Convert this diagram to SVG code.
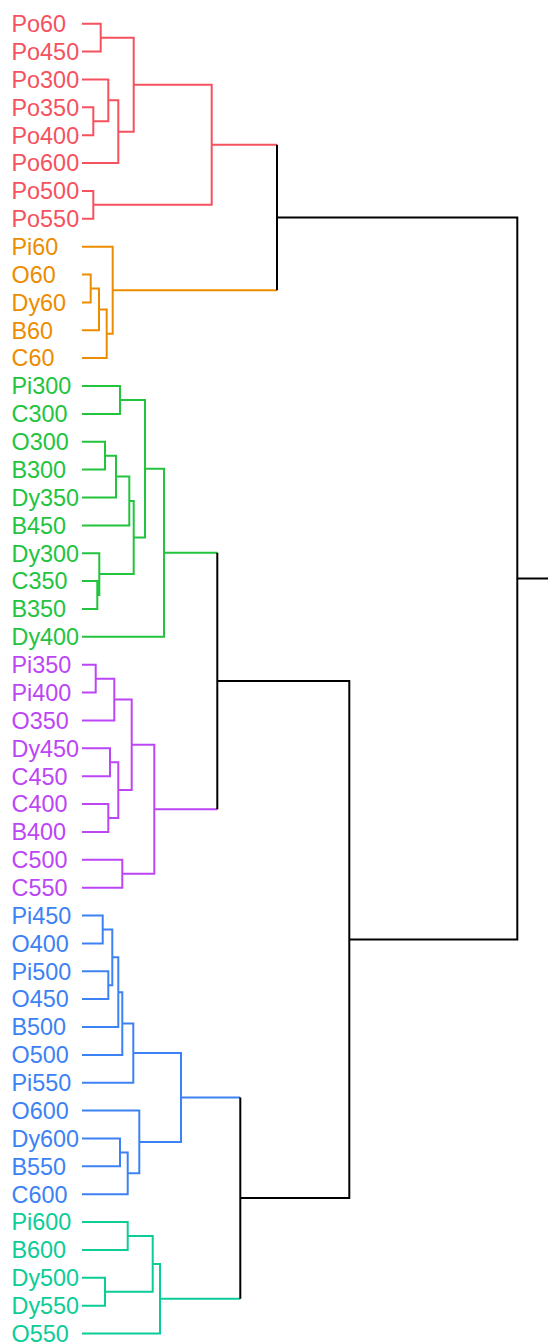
<svg xmlns="http://www.w3.org/2000/svg" width="548" height="1343" viewBox="0 0 548 1343">
<style>
text{font-family:"Liberation Sans",Arial,sans-serif;font-size:23.4px}
.r{fill:#F6515E}.o{fill:#EC8C00}.g{fill:#22C43E}.p{fill:#BC45F6}.b{fill:#3D82F4}.t{fill:#0CCC97}
path{fill:none;stroke-width:2;stroke-linejoin:miter}
.lr{stroke:#F6515E}.lo{stroke:#EC8C00}.lg{stroke:#22C43E}.lp{stroke:#BC45F6}.lb{stroke:#3D82F4}.lt{stroke:#0CCC97}.lk{stroke:#000}
</style>
<rect width="548" height="1343" fill="#fff"/>
<g id="labels" transform="translate(0,-0.2)">
<g id="Po60"><text class="r" x="11.5" y="32.3">Po60</text></g>
<g id="Po450"><text class="r" x="11.5" y="60.2">Po450</text></g>
<g id="Po300"><text class="r" x="11.5" y="88.0">Po300</text></g>
<g id="Po350"><text class="r" x="11.5" y="115.9">Po350</text></g>
<g id="Po400"><text class="r" x="11.5" y="143.8">Po400</text></g>
<g id="Po600"><text class="r" x="11.5" y="171.7">Po600</text></g>
<g id="Po500"><text class="r" x="11.5" y="199.5">Po500</text></g>
<g id="Po550"><text class="r" x="11.5" y="227.4">Po550</text></g>
<g id="Pi60"><text class="o" x="11.5" y="255.3">Pi60</text></g>
<g id="O60"><text class="o" x="11.5" y="283.1">O60</text></g>
<g id="Dy60"><text class="o" x="11.5" y="311.0">Dy60</text></g>
<g id="B60"><text class="o" x="11.5" y="338.9">B60</text></g>
<g id="C60"><text class="o" x="11.5" y="366.7">C60</text></g>
<g id="Pi300"><text class="g" x="11.5" y="394.6">Pi300</text></g>
<g id="C300"><text class="g" x="11.5" y="422.5">C300</text></g>
<g id="O300"><text class="g" x="11.5" y="450.4">O300</text></g>
<g id="B300"><text class="g" x="11.5" y="478.2">B300</text></g>
<g id="Dy350"><text class="g" x="11.5" y="506.1">Dy350</text></g>
<g id="B450"><text class="g" x="11.5" y="534.0">B450</text></g>
<g id="Dy300"><text class="g" x="11.5" y="561.8">Dy300</text></g>
<g id="C350"><text class="g" x="11.5" y="589.7">C350</text></g>
<g id="B350"><text class="g" x="11.5" y="617.6">B350</text></g>
<g id="Dy400"><text class="g" x="11.5" y="645.4">Dy400</text></g>
<g id="Pi350"><text class="p" x="11.5" y="673.3">Pi350</text></g>
<g id="Pi400"><text class="p" x="11.5" y="701.2">Pi400</text></g>
<g id="O350"><text class="p" x="11.5" y="729.1">O350</text></g>
<g id="Dy450"><text class="p" x="11.5" y="756.9">Dy450</text></g>
<g id="C450"><text class="p" x="11.5" y="784.8">C450</text></g>
<g id="C400"><text class="p" x="11.5" y="812.7">C400</text></g>
<g id="B400"><text class="p" x="11.5" y="840.5">B400</text></g>
<g id="C500"><text class="p" x="11.5" y="868.4">C500</text></g>
<g id="C550"><text class="p" x="11.5" y="896.3">C550</text></g>
<g id="Pi450"><text class="b" x="11.5" y="924.1">Pi450</text></g>
<g id="O400"><text class="b" x="11.5" y="952.0">O400</text></g>
<g id="Pi500"><text class="b" x="11.5" y="979.9">Pi500</text></g>
<g id="O450"><text class="b" x="11.5" y="1007.7">O450</text></g>
<g id="B500"><text class="b" x="11.5" y="1035.6">B500</text></g>
<g id="O500"><text class="b" x="11.5" y="1063.5">O500</text></g>
<g id="Pi550"><text class="b" x="11.5" y="1091.3">Pi550</text></g>
<g id="O600"><text class="b" x="11.5" y="1119.2">O600</text></g>
<g id="Dy600"><text class="b" x="11.5" y="1147.1">Dy600</text></g>
<g id="B550"><text class="b" x="11.5" y="1174.9">B550</text></g>
<g id="C600"><text class="b" x="11.5" y="1202.8">C600</text></g>
<g id="Pi600"><text class="t" x="11.5" y="1230.7">Pi600</text></g>
<g id="B600"><text class="t" x="11.5" y="1258.6">B600</text></g>
<g id="Dy500"><text class="t" x="11.5" y="1286.4">Dy500</text></g>
<g id="Dy550"><text class="t" x="11.5" y="1314.3">Dy550</text></g>
<g id="O550"><text class="t" x="11.5" y="1342.2">O550</text></g>
</g>
<g id="connectors">
<path class="lr" d="M82 23.7H100.7V51.6H82M82 107.3H93.3V135.2H82M82 79.4H108.3V121.25H93.3M108.3 100.3H118.3V163.1H82M100.7 37.65H133.7V131.7H118.3M82 190.9H93.3V218.8H82M133.7 84.7H211.7V204.85H93.3M211.7 144.8H277"/>
<path class="lo" d="M82 274.5H90.7V302.4H82M90.7 288.45H99V330.3H82M99 309.4H106.7V358.1H82M82 246.7H112.7V333.75H106.7M112.7 290.2H277"/>
<path class="lg" d="M82 386H120V413.9H82M82 441.8H105V469.6H82M105 455.7H116V497.5H82M116 476.6H129.3V525.4H82M82 581.1H97.3V609H82M82 553.2H99.3V595.05H97.3M129.3 501H133.7V574.1H99.3M120 399.95H145V537.55H133.7M145 468.75H164V636.8H82M164 552.8H217.3"/>
<path class="lp" d="M82 664.7H95.7V692.6H82M95.7 678.65H114.3V720.5H82M82 748.3H110V776.2H82M82 804.1H108.3V831.9H82M110 762.25H118.3V818H108.3M114.3 699.6H131.7V790.1H118.3M82 859.8H122.3V887.7H82M131.7 744.85H154.3V873.75H122.3M154.3 809.3H217.3"/>
<path class="lb" d="M82 915.5H102.7V943.4H82M82 971.3H108.3V999.1H82M102.7 929.45H112.3V985.2H108.3M112.3 957.3H118.3V1027H82M118.3 992.15H122.3V1054.9H82M122.3 1023.5H133.3V1082.7H82M82 1138.5H120V1166.3H82M120 1152.4H127.7V1194.2H82M82 1110.6H139.3V1173.3H127.7M133.3 1053.1H181V1141.95H139.3M181 1097.5H240.3"/>
<path class="lt" d="M82 1222.1H127.7V1250H82M82 1277.8H105V1305.7H82M127.7 1236.05H152.7V1291.75H105M152.7 1263.9H160V1333.6H82M160 1298.75H240.3"/>
<path class="lk" d="M277 144.8V290.2M217.3 552.8V809.3M240.3 1097.5V1298.75M217.3 681.05H349.3V1198.1H240.3M277 217.5H517.3V939.6H349.3M517.3 578.55H548"/>
</g>
</svg>
